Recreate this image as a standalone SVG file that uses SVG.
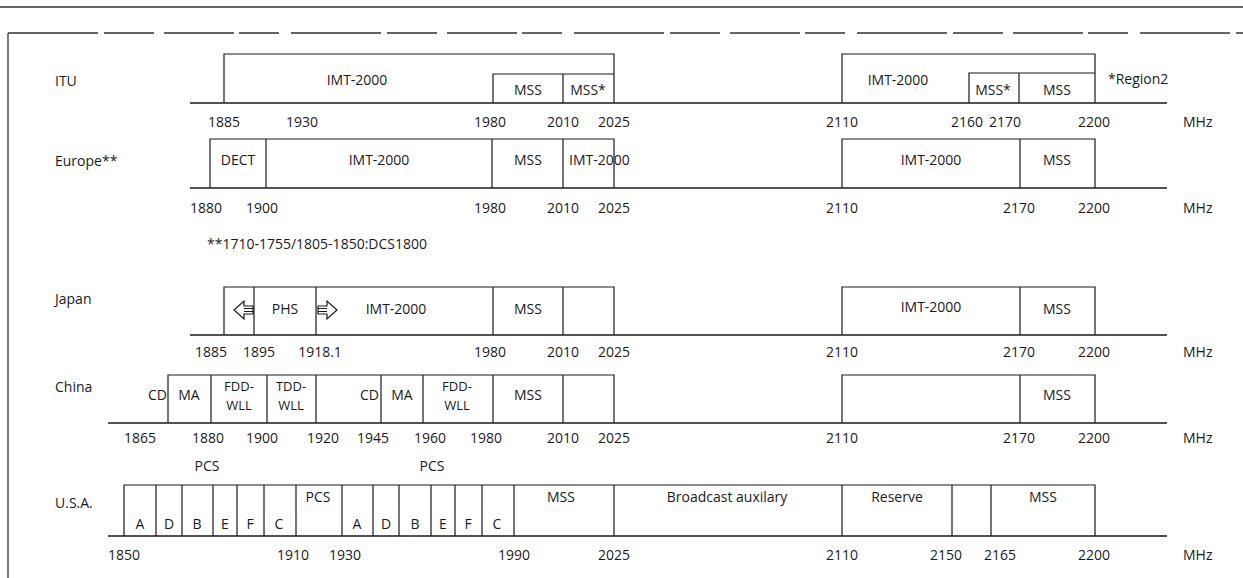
<svg xmlns="http://www.w3.org/2000/svg" width="1243" height="578" viewBox="0 0 1243 578">
<style>
.ln{stroke:#1a1a1a;stroke-width:1.2;fill:none}
.ax{stroke:#1a1a1a;stroke-width:1.3;fill:none}
.fr{stroke:#333;stroke-width:1.3;fill:none}
.t{font-family:"Open Sans","Noto Sans",sans-serif;font-size:14px;fill:#1a1a1a}
.s{font-size:13px}
.m{text-anchor:middle}
.e{text-anchor:end}
.ar{fill:#fff;stroke:#1a1a1a;stroke-width:1.2}
</style>
<rect width="1243" height="578" fill="#fff"/>
<g id="frame">
<line class="fr" x1="0" y1="7" x2="1243" y2="7"/>
<line class="fr" x1="8" y1="33" x2="1243" y2="33" stroke-dasharray="90 6 50 10 70 5 40 12"/>
<line class="fr" x1="8" y1="33" x2="8" y2="578"/>
</g>
<g id="axes">
<line class="ax" x1="190" y1="103" x2="1167" y2="103"/>
<line class="ax" x1="190" y1="188" x2="1167" y2="188"/>
<line class="ax" x1="190" y1="335" x2="1167" y2="335"/>
<line class="ax" x1="108" y1="423" x2="1167" y2="423"/>
<line class="ax" x1="108" y1="536" x2="1167" y2="536"/>
</g>
<g id="row-itu">
<text class="t" x="55" y="86">ITU</text>
<path class="ln" d="M224,103V54H614V103M493,103V74H614M563,74V103"/>
<path class="ln" d="M842,103V54H1095V103M969,103V73H1095M1019,73V103"/>
<text class="t m" x="357" y="85">IMT-2000</text>
<text class="t m" x="528" y="95">MSS</text>
<text class="t m" x="588" y="95">MSS*</text>
<text class="t m" x="898" y="85">IMT-2000</text>
<text class="t m" x="993" y="95">MSS*</text>
<text class="t m" x="1057" y="95">MSS</text>
<text class="t" x="1108" y="84">*Region2</text>
<text class="t m" x="224" y="127">1885</text>
<text class="t m" x="302" y="127">1930</text>
<text class="t m" x="490" y="127">1980</text>
<text class="t m" x="563" y="127">2010</text>
<text class="t m" x="614" y="127">2025</text>
<text class="t m" x="842" y="127">2110</text>
<text class="t m" x="967" y="127">2160</text>
<text class="t m" x="1005" y="127">2170</text>
<text class="t m" x="1094" y="127">2200</text>
<text class="t" x="1183" y="127">MHz</text>
</g>
<g id="row-europe">
<text class="t" x="55" y="166">Europe**</text>
<path class="ln" d="M210,188V139H614V188M266,139V188M492,139V188M563,139V188"/>
<path class="ln" d="M842,188V139H1095V188M1020,139V188"/>
<text class="t m" x="238" y="165">DECT</text>
<text class="t m" x="379" y="165">IMT-2000</text>
<text class="t m" x="528" y="165">MSS</text>
<text class="t" x="569" y="165">IMT-2000</text>
<text class="t m" x="931" y="165">IMT-2000</text>
<text class="t m" x="1057" y="165">MSS</text>
<text class="t m" x="206" y="213">1880</text>
<text class="t m" x="262" y="213">1900</text>
<text class="t m" x="490" y="213">1980</text>
<text class="t m" x="563" y="213">2010</text>
<text class="t m" x="614" y="213">2025</text>
<text class="t m" x="842" y="213">2110</text>
<text class="t m" x="1019" y="213">2170</text>
<text class="t m" x="1094" y="213">2200</text>
<text class="t" x="1183" y="213">MHz</text>
<text class="t" x="207" y="249">**1710-1755/1805-1850:DCS1800</text>
</g>
<g id="row-japan">
<text class="t" x="55" y="304">Japan</text>
<path class="ln" d="M224,335V287H614V335M254,287V335M316,287V335M493,287V335M563,287V335"/>
<path class="ln" d="M842,335V287H1095V335M1020,287V335"/>
<path class="ar" d="M234,310L244,301V306H253V314H244V319Z"/>
<path class="ln" d="M244,308.5H253M244,311.5H253"/>
<path class="ar" d="M337,310L327,301V306H318V314H327V319Z"/>
<path class="ln" d="M318,308.5H327M318,311.5H327"/>
<text class="t m" x="285" y="314">PHS</text>
<text class="t m" x="396" y="314">IMT-2000</text>
<text class="t m" x="528" y="314">MSS</text>
<text class="t m" x="931" y="312">IMT-2000</text>
<text class="t m" x="1057" y="314">MSS</text>
<text class="t m" x="211" y="357">1885</text>
<text class="t m" x="259" y="357">1895</text>
<text class="t m" x="320" y="357">1918.1</text>
<text class="t m" x="490" y="357">1980</text>
<text class="t m" x="563" y="357">2010</text>
<text class="t m" x="614" y="357">2025</text>
<text class="t m" x="842" y="357">2110</text>
<text class="t m" x="1019" y="357">2170</text>
<text class="t m" x="1094" y="357">2200</text>
<text class="t" x="1183" y="357">MHz</text>
</g>
<g id="row-china">
<text class="t" x="55" y="392">China</text>
<path class="ln" d="M168,423V375H614V423M211,375V423M267,375V423M316,375V423M381,375V423M423,375V423M493,375V423M563,375V423"/>
<path class="ln" d="M842,423V375H1095V423M1020,375V423"/>
<text class="t e" x="167" y="400">CD</text>
<text class="t m" x="189" y="400">MA</text>
<text class="t s m" x="239" y="391">FDD-</text>
<text class="t s m" x="239" y="410">WLL</text>
<text class="t s m" x="291" y="391">TDD-</text>
<text class="t s m" x="291" y="410">WLL</text>
<text class="t e" x="379" y="400">CD</text>
<text class="t m" x="402" y="400">MA</text>
<text class="t s m" x="457" y="391">FDD-</text>
<text class="t s m" x="457" y="410">WLL</text>
<text class="t m" x="528" y="400">MSS</text>
<text class="t m" x="1057" y="400">MSS</text>
<text class="t m" x="140" y="443">1865</text>
<text class="t m" x="208" y="443">1880</text>
<text class="t m" x="262" y="443">1900</text>
<text class="t m" x="323" y="443">1920</text>
<text class="t m" x="373" y="443">1945</text>
<text class="t m" x="430" y="443">1960</text>
<text class="t m" x="486" y="443">1980</text>
<text class="t m" x="563" y="443">2010</text>
<text class="t m" x="614" y="443">2025</text>
<text class="t m" x="842" y="443">2110</text>
<text class="t m" x="1019" y="443">2170</text>
<text class="t m" x="1094" y="443">2200</text>
<text class="t" x="1183" y="443">MHz</text>
</g>
<g id="row-usa">
<text class="t" x="55" y="508">U.S.A.</text>
<text class="t m" x="207" y="471">PCS</text>
<text class="t m" x="432" y="471">PCS</text>
<path class="ln" d="M124,536V485H1095V536M156,485V536M182,485V536M213,485V536M237,485V536M264,485V536M296,485V536M342,485V536M373,485V536M399,485V536M431,485V536M455,485V536M482,485V536M514,485V536M614,485V536M842,485V536M952,485V536M991,485V536"/>
<text class="t m" x="140" y="529">A</text>
<text class="t m" x="169" y="529">D</text>
<text class="t m" x="197" y="529">B</text>
<text class="t m" x="225" y="529">E</text>
<text class="t m" x="250" y="529">F</text>
<text class="t m" x="279" y="529">C</text>
<text class="t m" x="318" y="502">PCS</text>
<text class="t m" x="357" y="529">A</text>
<text class="t m" x="386" y="529">D</text>
<text class="t m" x="415" y="529">B</text>
<text class="t m" x="443" y="529">E</text>
<text class="t m" x="468" y="529">F</text>
<text class="t m" x="497" y="529">C</text>
<text class="t m" x="561" y="502">MSS</text>
<text class="t m" x="727" y="502">Broadcast auxilary</text>
<text class="t m" x="897" y="502">Reserve</text>
<text class="t m" x="1043" y="502">MSS</text>
<text class="t m" x="124" y="560">1850</text>
<text class="t m" x="293" y="560">1910</text>
<text class="t m" x="345" y="560">1930</text>
<text class="t m" x="514" y="560">1990</text>
<text class="t m" x="614" y="560">2025</text>
<text class="t m" x="842" y="560">2110</text>
<text class="t m" x="946" y="560">2150</text>
<text class="t m" x="1000" y="560">2165</text>
<text class="t m" x="1094" y="560">2200</text>
<text class="t" x="1183" y="560">MHz</text>
</g>
</svg>
